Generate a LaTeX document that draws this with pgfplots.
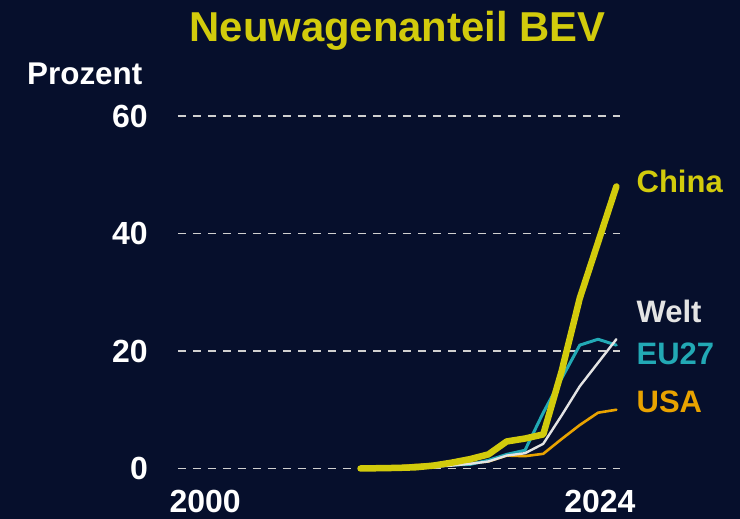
\documentclass[border=0pt]{standalone}
\usepackage{fontspec}
\setmainfont{Liberation Sans}
\usepackage{pgfplots}
\pgfplotsset{compat=1.18}
\definecolor{bg}{HTML}{060F2C}
\definecolor{cnY}{HTML}{D2CB0C}
\definecolor{euT}{HTML}{22A9B5}
\definecolor{wW}{HTML}{E4E4E4}
\definecolor{usO}{HTML}{E9A300}
\definecolor{gridc}{HTML}{D0D0D0}
\begin{document}
\begin{tikzpicture}[x=1pt,y=1pt]
\fill[bg] (0,0) rectangle (740,519);
\node[anchor=base, text=cnY, font=\fontsize{41.8}{42}\selectfont\bfseries, inner sep=0pt] at (397.5,477) {Neuwagenanteil BEV};
\node[anchor=base west, text=white, font=\fontsize{31.4}{32}\selectfont\bfseries, inner sep=0pt] at (27,434) {Prozent};
\begin{axis}[
  at={(177.8pt,50.5pt)}, anchor=south west,
  scale only axis, width=442.2pt, height=352.5pt,
  xmin=2000, xmax=2024.2, ymin=0, ymax=60,
  axis line style={draw=none},
  major tick length=0pt,
  xtick={2001.5,2023.1}, xticklabels={2000,2024},
  ytick={0,20,40,60},
  ymajorgrids,
  grid style={gridc, line width=1.6pt, dash pattern=on 8.5pt off 6.5pt},
  /pgf/number format/assume math mode=true,
  ticklabel style={font=\fontsize{32}{32}\selectfont\bfseries, text=white, inner sep=0pt},
  yticklabel style={anchor=east, xshift=-29.8pt},
  xticklabel style={anchor=north, yshift=-21.5pt},
  clip=false,
  every axis plot/.append style={line cap=round, line join=round, no markers},
]
\addplot[usO, line width=2.6pt] coordinates {
(2010,0.0) (2011,0.1) (2012,0.3) (2013,0.6) (2014,0.7) (2015,0.7) (2016,0.9) (2017,1.2)
(2018,2.2) (2019,2.1) (2020,2.5) (2021,5.0) (2022,7.4) (2023,9.5) (2024,10.0)};
\addplot[euT, line width=3.0pt] coordinates {
(2010,0.0) (2011,0.05) (2012,0.1) (2013,0.2) (2014,0.4) (2015,0.6) (2016,0.7) (2017,1.4)
(2018,2.4) (2019,3.1) (2020,9.5) (2021,15.3) (2022,21.0) (2023,22.0) (2024,21.0)};
\addplot[wW, line width=2.4pt] coordinates {
(2010,0.0) (2011,0.05) (2012,0.1) (2013,0.2) (2014,0.3) (2015,0.5) (2016,0.8) (2017,1.2)
(2018,2.2) (2019,2.6) (2020,4.2) (2021,9.0) (2022,14.0) (2023,18.0) (2024,22.0)};
\addplot[cnY, line width=6.5pt] coordinates {
(2010,0.0) (2011,0.05) (2012,0.1) (2013,0.2) (2014,0.5) (2015,1.0) (2016,1.6) (2017,2.4)
(2018,4.6) (2019,5.1) (2020,5.8) (2021,16.5) (2022,29.0) (2023,38.5) (2024,48.0)};
\node[anchor=west, inner sep=0pt, text=cnY, font=\fontsize{31}{31}\selectfont\bfseries] at (axis cs:2025.1,48.94) {China};
\node[anchor=west, inner sep=0pt, text=wW, font=\fontsize{31}{31}\selectfont\bfseries] at (axis cs:2025.1,26.72) {Welt};
\node[anchor=west, inner sep=0pt, text=euT, font=\fontsize{31}{31}\selectfont\bfseries] at (axis cs:2025.1,19.57) {EU27};
\node[anchor=west, inner sep=0pt, text=usO, font=\fontsize{31}{31}\selectfont\bfseries] at (axis cs:2025.1,11.40) {USA};
\end{axis}
\pgfresetboundingbox
\path[use as bounding box] (0,0) rectangle (740,519);
\end{tikzpicture}
\end{document}
